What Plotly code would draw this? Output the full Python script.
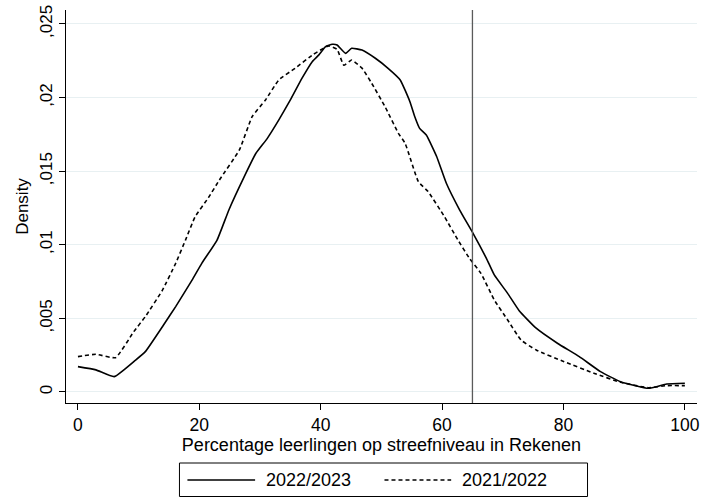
import plotly.graph_objects as go

# ---- data ----
series_names = ["2022/2023", "2021/2022"]

x_2223 = [0, 2.95, 5.96, 9.5, 11.1, 14.1, 16.1, 18.8, 20.4, 22.9, 24.9, 27.4, 29.3, 31.2, 33.1,
          35.0, 36.9, 38.6, 39.7, 40.8, 41.9, 42.7, 44.1, 45.1, 46.8, 49.0, 51.1, 53.1, 54.7,
          55.5, 56.3, 57.4, 59.1, 60.7, 62.9, 65.1, 67.3, 68.6, 70.8, 72.7, 75.5, 79.0, 82.6,
          86.1, 89.4, 94.0, 97.0, 100]
y_2223 = [0.00172, 0.0015, 0.00104, 0.00217, 0.00274, 0.00455, 0.0058, 0.0076, 0.00874, 0.0103,
          0.0124, 0.01463, 0.0162, 0.01723, 0.01848, 0.01984, 0.0213, 0.02244, 0.0229, 0.02346,
          0.02362, 0.02357, 0.0230, 0.02335, 0.02323, 0.02267, 0.02199, 0.0212, 0.01972,
          0.0187, 0.01791, 0.01746, 0.016, 0.01418, 0.01236, 0.01078, 0.00908, 0.00795, 0.0067,
          0.00552, 0.00433, 0.00331, 0.0024, 0.00138, 0.0007, 0.00025, 0.00054, 0.00059]

x_2122 = [0, 2.95, 6.2, 9.2, 11.1, 13.9, 16.1, 17.7, 19.3, 21.5, 23.3, 26.6, 28.7, 30.9, 33.1,
          35.8, 38.8, 41.3, 42.7, 43.8, 45.1, 46.8, 48.4, 50.6, 52.8, 53.9, 56.1, 57.7, 60.4,
          62.6, 64.5, 66.4, 68.6, 70.8, 73.0, 75.5, 80.1, 85.0, 89.4, 94.0, 97.0, 100]
y_2122 = [0.0024, 0.00256, 0.00233, 0.0041, 0.00512, 0.0069, 0.00874, 0.0103, 0.0119, 0.0132,
          0.0144, 0.01644, 0.0187, 0.01984, 0.0212, 0.0220, 0.02294, 0.02351, 0.02328, 0.0222,
          0.02255, 0.0220, 0.02097, 0.01938, 0.01757, 0.0169, 0.01428, 0.01361, 0.0119,
          0.01033, 0.00908, 0.00806, 0.00625, 0.00489, 0.00353, 0.00285, 0.00206, 0.00127,
          0.00066, 0.00029, 0.00043, 0.00043]

ref_line_x = 65
x_ticks = [0, 20, 40, 60, 80, 100]
y_ticks = [0, 0.005, 0.01, 0.015, 0.02, 0.025]
y_tick_labels = ["0", ",005", ",01", ",015", ",02", ",025"]

FONT = "Liberation Sans, Arial, sans-serif"

fig = go.Figure()
fig.add_trace(go.Scatter(x=x_2223, y=y_2223, mode="lines", name=series_names[0],
                         line=dict(color="black", width=1.6, shape="spline", smoothing=0.4)))
fig.add_trace(go.Scatter(x=x_2122, y=y_2122, mode="lines", name=series_names[1],
                         line=dict(color="black", width=1.6, dash="4px,3px", shape="spline", smoothing=0.4)))

fig.add_vline(x=ref_line_x, line=dict(color="#5a5a5a", width=1.3))

# manual legend (paper coordinates)
W, H = 705, 498
L, R, T, B = 66, 5, 10, 95
pw, ph = W - L - R, H - T - B
def px(xp): return (xp - L) / pw
def py(yp): return (H - B - yp) / ph

fig.add_shape(type="rect", xref="paper", yref="paper",
              x0=px(180), x1=px(590), y0=py(496.5), y1=py(463),
              line=dict(color="black", width=1), fillcolor="white")
fig.add_shape(type="line", xref="paper", yref="paper",
              x0=px(188), x1=px(256), y0=py(480), y1=py(480),
              line=dict(color="black", width=1.6))
fig.add_shape(type="line", xref="paper", yref="paper",
              x0=px(386), x1=px(453), y0=py(480), y1=py(480),
              line=dict(color="black", width=1.6, dash="4px,3px"))
fig.add_annotation(xref="paper", yref="paper", x=px(265), y=py(480), text=series_names[0],
                   showarrow=False, xanchor="left", yanchor="middle",
                   font=dict(family=FONT, size=18, color="black"))
fig.add_annotation(xref="paper", yref="paper", x=px(462), y=py(480), text=series_names[1],
                   showarrow=False, xanchor="left", yanchor="middle",
                   font=dict(family=FONT, size=18, color="black"))

fig.update_layout(
    width=W, height=H,
    margin=dict(l=L, r=R, t=T, b=B),
    paper_bgcolor="white", plot_bgcolor="white",
    showlegend=False,
    font=dict(family=FONT, size=17, color="black"),
    xaxis=dict(range=[-1.97, 102], tickvals=x_ticks, ticks="outside", ticklen=6,
               tickcolor="black", showgrid=False, zeroline=False,
               showline=True, linecolor="black", linewidth=1,
               title=dict(text="Percentage leerlingen op streefniveau in Rekenen",
                          font=dict(size=18), standoff=4),
               tickfont=dict(size=17.5)),
    yaxis=dict(range=[-0.00075, 0.02595], tickvals=y_ticks, ticktext=y_tick_labels,
               tickangle=-90, ticks="outside", ticklen=6, tickcolor="black",
               showgrid=True, gridcolor="#e8f0f2", gridwidth=1, zeroline=False,
               showline=True, linecolor="black", linewidth=1,
               title=dict(text="Density", font=dict(size=17), standoff=4),
               tickfont=dict(size=17)),
)

fig.write_html("out.html")
